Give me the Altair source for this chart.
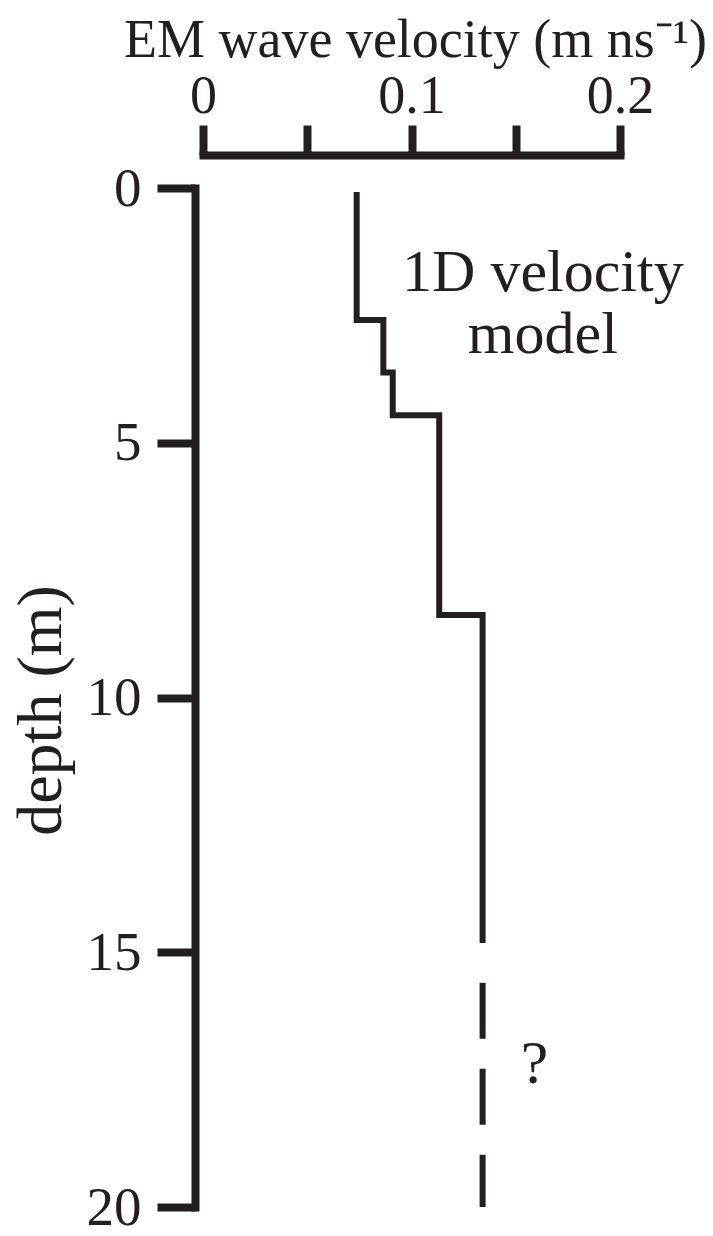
import altair as alt
import pandas as pd

# ---- data ----
LAYER_TOP_DEPTH = [0.08, 2.59, 3.62, 4.46, 8.38, 14.82]        # m
LAYER_VELOCITY = [0.0737, 0.0865, 0.0910, 0.1133, 0.1341, 0.1341]  # m/ns

DASH_DEPTH = [15.6, 20.0]
DASH_VELOCITY = [0.1341, 0.1341]

X_TICKS = [0, 0.05, 0.1, 0.15, 0.2]
X_TICK_LABELS = ["0", "", "0.1", "", "0.2"]
Y_TICKS = [0, 5, 10, 15, 20]

NOTE_TEXT = ["1D velocity", "model"]
NOTE_VEL = [0.163, 0.163]
NOTE_DEPTH = [2.02, 3.24]

Q_TEXT = ["?"]
Q_VEL = [0.159]
Q_DEPTH = [17.57]

INK = "#231f20"
FONT = "Liberation Serif"

solid = pd.DataFrame({"depth": LAYER_TOP_DEPTH, "velocity": LAYER_VELOCITY})
dashed = pd.DataFrame({"depth": DASH_DEPTH, "velocity": DASH_VELOCITY})
notes = pd.DataFrame({"depth": NOTE_DEPTH, "velocity": NOTE_VEL, "label": NOTE_TEXT})
qmark = pd.DataFrame({"depth": Q_DEPTH, "velocity": Q_VEL, "label": Q_TEXT})

label_expr = " : ".join(
    [f"datum.value == {v} ? '{l}'" for v, l in zip(X_TICKS, X_TICK_LABELS)]
) + " : ''"

x_scale = alt.Scale(domain=[0, 0.2], nice=False, zero=False)
y_scale = alt.Scale(domain=[0, 20], reverse=True, nice=False, zero=False)

x_axis = alt.Axis(
    orient="top", values=X_TICKS, labelExpr=label_expr,
    offset=33, tickSize=30, tickWidth=8, domainWidth=8, domainCap="square",
    tickColor=INK, domainColor=INK, labelColor=INK, titleColor=INK,
    labelFont=FONT, labelFontSize=54, labelPadding=2, labelFlush=False,
    labelOverlap=False,
    title="EM wave velocity (m ns⁻¹)", titleFont=FONT, titleFontSize=54,
    titleFontWeight="normal", titleBaseline="alphabetic",
    titleX=212, titleY=-99, titleAlign="center",
    grid=False,
)
y_axis = alt.Axis(
    orient="left", values=Y_TICKS, format="d",
    offset=8, tickSize=38, tickWidth=8, domainWidth=8, domainCap="square",
    tickColor=INK, domainColor=INK, labelColor=INK, titleColor=INK,
    labelFont=FONT, labelFontSize=55, labelPadding=16, labelFlush=False,
    labelOverlap=False,
    title="depth (m)", titleFont=FONT, titleFontSize=64,
    titleFontWeight="normal", titleBaseline="alphabetic",
    titleX=-135, titleY=522, titleAlign="center", titleAngle=270,
    grid=False,
)

base = alt.Chart(solid).mark_line(
    interpolate="step-before", color=INK, strokeWidth=6, strokeCap="butt"
).encode(
    x=alt.X("velocity:Q", scale=x_scale, axis=x_axis),
    y=alt.Y("depth:Q", scale=y_scale, axis=y_axis),
    order=alt.Order("depth:Q"),
)

dash = alt.Chart(dashed).mark_line(
    color=INK, strokeWidth=6, strokeDash=[56, 30], strokeCap="butt"
).encode(
    x=alt.X("velocity:Q", scale=x_scale),
    y=alt.Y("depth:Q", scale=y_scale),
    order=alt.Order("depth:Q"),
)

note = alt.Chart(notes).mark_text(
    font=FONT, fontSize=60, color=INK, align="center", baseline="alphabetic"
).encode(
    x=alt.X("velocity:Q", scale=x_scale),
    y=alt.Y("depth:Q", scale=y_scale),
    text="label:N",
)

q = alt.Chart(qmark).mark_text(
    font=FONT, fontSize=62, color=INK, align="center", baseline="alphabetic"
).encode(
    x=alt.X("velocity:Q", scale=x_scale),
    y=alt.Y("depth:Q", scale=y_scale),
    text="label:N",
)

chart = alt.layer(base, dash, note, q).properties(
    width=417, height=1019,
    padding={"left": 203, "top": 188, "right": 93, "bottom": 29},
    autosize=alt.AutoSizeParams(type="none"),
    background="white",
).configure_view(stroke="transparent")

chart.save("out.html", embed_options={"renderer": "svg", "actions": False})
